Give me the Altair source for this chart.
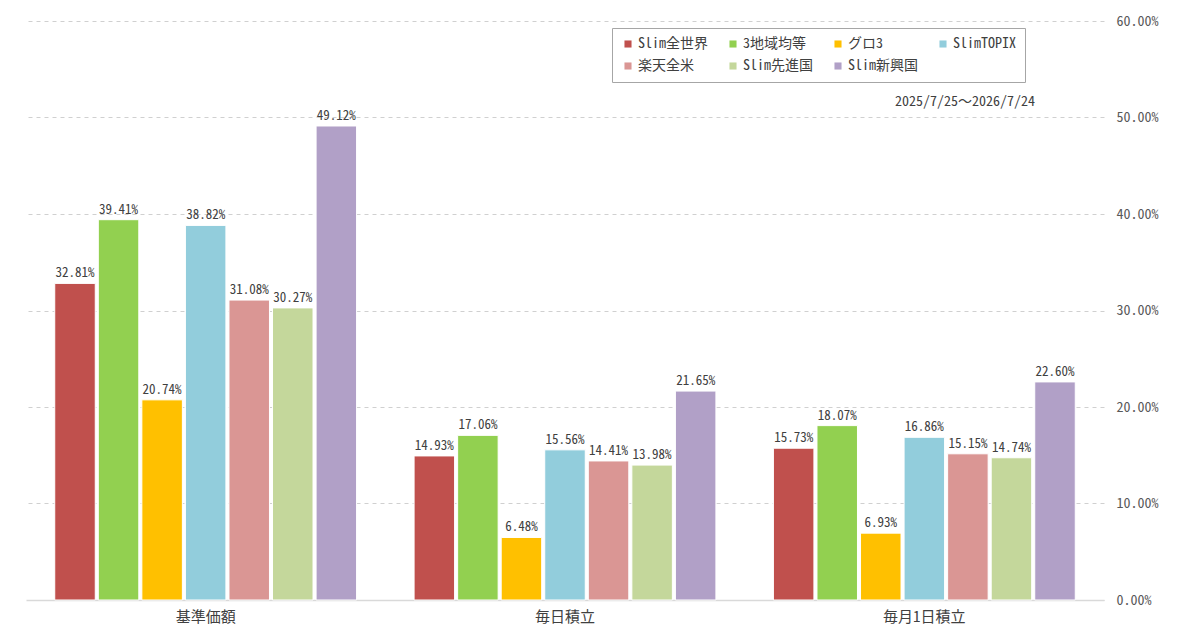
import altair as alt
import pandas as pd

categories = ["基準価額", "毎日積立", "毎月1日積立"]
series = ["Slim全世界", "3地域均等", "グロ3", "SlimTOPIX", "楽天全米", "Slim先進国", "Slim新興国"]
colors = ["#C0504D", "#92D050", "#FFC000", "#92CDDC", "#DA9694", "#C4D79B", "#B1A0C7"]
values = {
    "基準価額": [32.81, 39.41, 20.74, 38.82, 31.08, 30.27, 49.12],
    "毎日積立": [14.93, 17.06, 6.48, 15.56, 14.41, 13.98, 21.65],
    "毎月1日積立": [15.73, 18.07, 6.93, 16.86, 15.15, 14.74, 22.60],
}
y_ticks = [0, 0.1, 0.2, 0.3, 0.4, 0.5, 0.6]
period = "2025/7/25～2026/7/24"

rows = []
for c in categories:
    for s, v in zip(series, values[c]):
        rows.append({"cat": c, "series": s, "pct": v})
df = pd.DataFrame(rows)

FONT = "Noto Sans Mono CJK JP, DejaVu Sans Mono, monospace"

base = alt.Chart(df).transform_calculate(val="datum.pct / 100")

x = alt.X("cat:N", sort=categories, title=None,
          scale=alt.Scale(paddingInner=0.16, paddingOuter=0.08),
          axis=alt.Axis(labelAngle=0, labelFontSize=15, labelColor="#404040",
                        labelPadding=9, ticks=False, domainColor="#d9d9d9",
                        domainWidth=1.5, labelFont=FONT))
xo = alt.XOffset("series:N", sort=series,
                 scale=alt.Scale(paddingInner=0.07, paddingOuter=0))
y = alt.Y("val:Q", title=None,
          scale=alt.Scale(domain=[0, 0.6], nice=False),
          axis=alt.Axis(orient="right", format=".2%", values=y_ticks,
                        grid=True, gridDash=[4, 4], gridColor="#d0d0d0",
                        domain=False, ticks=False, labelPadding=12,
                        labelOverlap=False,
                        labelFontSize=14, labelColor="#595959", labelFont=FONT))

bars = base.mark_bar(stroke="white", strokeWidth=1).encode(
    x=x, xOffset=xo, y=y,
    color=alt.Color("series:N", sort=series,
                    scale=alt.Scale(domain=series, range=colors),
                    legend=alt.Legend(title=None, orient="none", legendX=586, legendY=7,
                                      direction="horizontal",
                                      columns=4, symbolType="square", symbolSize=50,
                                      symbolStrokeWidth=0,
                                      labelFontSize=14, labelColor="#404040", labelFont=FONT,
                                      columnPadding=18, rowPadding=8, padding=9,
                                      gridAlign="all", labelLimit=120,
                                      strokeColor="#a6a6a6", fillColor="white",
                                      symbolOffset=0, labelOffset=3)),
)

labels = base.mark_text(dy=-10, fontSize=13, color="#404040", font=FONT).encode(
    x=x, xOffset=xo, y=y,
    text=alt.Text("val:Q", format=".2%"),
)

note = alt.Chart(pd.DataFrame({"t": [period]})).mark_text(
    align="right", baseline="middle", fontSize=14, color="#404040", font=FONT
).encode(x=alt.value(1009), y=alt.value(81), text="t:N")

chart = alt.layer(bars, labels, note).properties(
    width=1078, height=579,
    padding={"left": 18, "top": 6, "right": 5, "bottom": 5},
    background="white",
).configure_view(stroke=None)

chart.save("out.html", embed_options={"renderer": "svg", "actions": False})
